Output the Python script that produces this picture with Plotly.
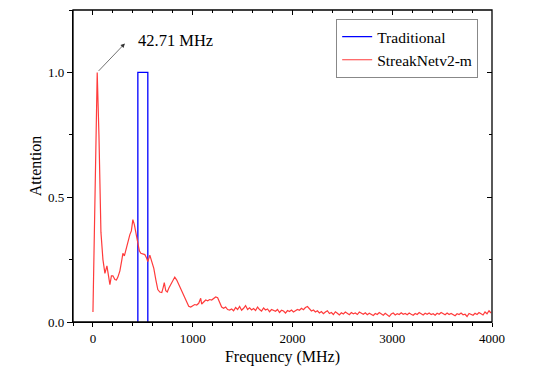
import plotly.graph_objects as go

# Traditional window (rectangle)
trad_freq = [450, 450, 550, 550]
trad_att = [0, 1.0, 1.0, 0]

# StreakNetv2-m attention curve
net_freq = [0, 20, 42.71, 60, 80, 100, 120, 140, 160, 170, 185, 200, 220, 235, 250, 270, 290, 300,
            315, 330, 350, 370, 385, 400, 415, 430, 450, 465, 480, 500, 520, 535, 550, 570, 590,
            610, 630, 650, 670, 690, 705, 715, 730, 745, 760, 780, 800, 820, 840, 860, 880, 900,
            920, 940, 960, 980, 1000, 1020, 1040, 1060, 1080, 1090, 1110, 1130, 1150, 1170, 1190,
            1210, 1230, 1250, 1270, 1290, 1310, 1330, 1350, 1370,
            1390, 1410, 1430, 1450, 1470, 1490, 1510, 1530, 1550, 1570, 1590,
            1610, 1630, 1650, 1670, 1690, 1710, 1730, 1750, 1770, 1790, 1810,
            1830, 1850, 1870, 1890, 1910, 1930, 1950, 1970, 1990, 2010, 2030,
            2050, 2070, 2090, 2110, 2130, 2150, 2170, 2190, 2210, 2230, 2250,
            2270, 2290, 2310, 2330, 2350, 2370, 2390, 2410, 2430, 2450, 2470,
            2490, 2510, 2530, 2550, 2570, 2590, 2610, 2630, 2650, 2670, 2690,
            2710, 2730, 2750, 2770, 2790, 2810, 2830, 2850, 2870, 2890, 2910,
            2930, 2950, 2970, 2990, 3010, 3030, 3050, 3070, 3090, 3110, 3130,
            3150, 3170, 3190, 3210, 3230, 3250, 3270, 3290, 3310, 3330, 3350,
            3370, 3390, 3410, 3430, 3450, 3470, 3490, 3510, 3530, 3550, 3570,
            3590, 3610, 3630, 3650, 3670, 3690, 3710, 3730, 3750, 3770, 3790,
            3810, 3830, 3850, 3870, 3890, 3910, 3930, 3950, 3970, 3990]
net_att = [0.04, 0.45, 1.0, 0.75, 0.36, 0.25, 0.195, 0.225, 0.16, 0.15, 0.185, 0.185, 0.17, 0.168,
           0.18, 0.205, 0.25, 0.275, 0.265, 0.29, 0.325, 0.35, 0.365, 0.41, 0.39, 0.36, 0.32, 0.285,
           0.275, 0.272, 0.27, 0.258, 0.242, 0.268, 0.245, 0.215, 0.17, 0.13, 0.12, 0.118, 0.14,
           0.158, 0.125, 0.12, 0.135, 0.15, 0.165, 0.18, 0.168, 0.15, 0.13, 0.118, 0.1, 0.08, 0.063,
           0.06, 0.065, 0.07, 0.068, 0.075, 0.095, 0.072, 0.08, 0.088, 0.085, 0.09, 0.088, 0.095,
           0.1, 0.097, 0.078, 0.06, 0.055, 0.06, 0.05, 0.048,
           0.052, 0.045, 0.058, 0.05, 0.062, 0.047, 0.055, 0.066, 0.05, 0.057, 0.048,
           0.054, 0.046, 0.06, 0.05, 0.044, 0.056, 0.048, 0.052, 0.041, 0.05, 0.046,
           0.043, 0.05, 0.038, 0.047, 0.044, 0.036, 0.046, 0.042, 0.048, 0.04, 0.045,
           0.05, 0.047, 0.055, 0.049, 0.058, 0.062, 0.052, 0.044, 0.048, 0.04, 0.045,
           0.036, 0.042, 0.033, 0.04, 0.045, 0.034, 0.038, 0.03, 0.041, 0.035, 0.028,
           0.037, 0.032, 0.04, 0.034, 0.029, 0.038, 0.033, 0.036, 0.03, 0.04, 0.034,
           0.031, 0.037, 0.029, 0.035, 0.03, 0.026, 0.034, 0.03, 0.038, 0.032, 0.027,
           0.035, 0.03, 0.022, 0.032, 0.036, 0.028, 0.033, 0.03, 0.037, 0.031, 0.034,
           0.029, 0.036, 0.031, 0.027, 0.034, 0.03, 0.038, 0.032, 0.028, 0.035, 0.031,
           0.036, 0.03, 0.033, 0.027, 0.035, 0.031, 0.038, 0.033, 0.029, 0.036, 0.03,
           0.034, 0.028, 0.025, 0.033, 0.03, 0.036, 0.029, 0.031, 0.022, 0.034, 0.03,
           0.027, 0.035, 0.03, 0.038, 0.032, 0.028, 0.04, 0.033, 0.045, 0.036]

peak_freq = 42.71
peak_att = 1.0

FONT = 'Liberation Serif, Times New Roman, serif'

fig = go.Figure()

fig.add_trace(go.Scatter(x=trad_freq, y=trad_att, mode='lines', name='Traditional',
                         line=dict(color='#0000ff', width=1.3)))
fig.add_trace(go.Scatter(x=net_freq, y=net_att, mode='lines', name='StreakNetv2-m',
                         line=dict(color='#ff3b3b', width=1.2)))
# dummy trace so the mirrored (inside tick) axes get drawn
fig.add_trace(go.Scatter(x=[None], y=[None], xaxis='x2', yaxis='y2', showlegend=False,
                         hoverinfo='skip'))

# arrow + label for the peak
fig.add_annotation(x=320, y=1.116, ax=peak_freq, ay=peak_att, axref='x', ayref='y',
                   text='', showarrow=True, arrowhead=2, arrowsize=1.2, arrowwidth=0.7,
                   arrowcolor='#333333')
fig.add_annotation(x=430, y=1.128, text='42.71 MHz', showarrow=False, xanchor='left',
                   font=dict(family=FONT, size=16.5, color='black'))

# frame around the plot area
fig.add_shape(type='rect', xref='paper', yref='paper', x0=0, x1=1, y0=0, y1=1,
              line=dict(color='black', width=1.3), fillcolor='rgba(0,0,0,0)', layer='above')

ax_common = dict(showgrid=False, zeroline=False, linecolor='black', linewidth=1.2,
                 automargin=False, tickcolor='black',
                 tickfont=dict(family=FONT, size=13, color='black'))

# the page body adds an 8px offset, so the figure is 8px smaller and margins shifted
fig.update_layout(
    width=530, height=358,
    margin=dict(l=65, r=46, t=2, b=44),
    plot_bgcolor='white', paper_bgcolor='white',
    font=dict(family=FONT, color='black'),
    xaxis=dict(range=[-200, 4000], tick0=0, dtick=1000, ticks='outside', ticklen=4,
               showline=True,
               minor=dict(dtick=200, ticks='outside', ticklen=3, tickcolor='black'),
               title=dict(text='Frequency (MHz)', font=dict(family=FONT, size=16), standoff=16),
               **ax_common),
    yaxis=dict(range=[0, 1.25], tick0=0, dtick=0.5, tickformat='.1f', ticks='outside', ticklen=5,
               showline=True,
               minor=dict(dtick=0.25, ticks='outside', ticklen=3, tickcolor='black'),
               title=dict(text='Attention', font=dict(family=FONT, size=16), standoff=2),
               **ax_common),
    xaxis2=dict(overlaying='x', side='top', range=[-200, 4000], tick0=0, dtick=1000,
                ticks='inside', ticklen=5, showticklabels=False, showline=False, showgrid=False,
                zeroline=False, tickcolor='black', automargin=False,
                minor=dict(dtick=200, ticks='inside', ticklen=3, tickcolor='black')),
    yaxis2=dict(overlaying='y', side='right', range=[0, 1.25], tick0=0, dtick=0.5,
                ticks='inside', ticklen=5, showticklabels=False, showline=False, showgrid=False,
                zeroline=False, tickcolor='black', automargin=False,
                minor=dict(dtick=0.25, ticks='inside', ticklen=3, tickcolor='black')),
    legend=dict(x=0.967, y=0.971, xanchor='right', yanchor='top', bgcolor='white',
                bordercolor='#888888', borderwidth=1, tracegroupgap=0,
                font=dict(family=FONT, size=15.5, color='black')),
    showlegend=True,
)

fig.write_html('out.html')
